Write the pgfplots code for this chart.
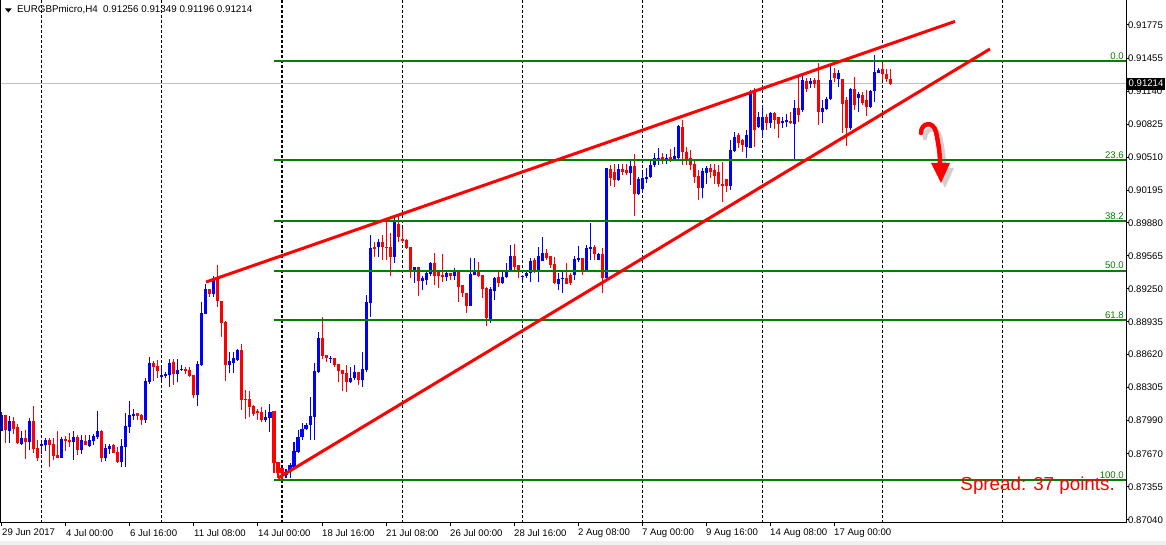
\documentclass[border=0pt]{standalone}
\usepackage{fontspec}
\setmainfont{Liberation Sans}
\usepackage{pgfplots}
\usepackage{pgfplotstable}
\pgfplotsset{compat=1.18}
\definecolor{mtgreen}{RGB}{0,128,0}
\definecolor{mtblue}{RGB}{0,0,255}
\definecolor{mtred}{RGB}{255,0,0}
\definecolor{bidgray}{RGB}{192,192,192}

% bullish (blue) candles: index, open, high, low, close
\pgfplotstableread{
i o h l c
0 0.87889 0.88071 0.87889 0.88042
2 0.87889 0.88033 0.87774 0.87985
5 0.87765 0.87889 0.87755 0.87822
7 0.87784 0.88014 0.87708 0.87985
10 0.87746 0.87784 0.87670 0.87765
11 0.87755 0.87822 0.87698 0.87803
15 0.87631 0.87832 0.87631 0.87812
18 0.87784 0.87889 0.87612 0.87832
20 0.87708 0.87851 0.87670 0.87803
22 0.87746 0.87851 0.87736 0.87803
23 0.87793 0.87861 0.87755 0.87842
24 0.87832 0.88080 0.87812 0.87889
26 0.87631 0.87765 0.87602 0.87726
27 0.87717 0.87765 0.87670 0.87746
30 0.87593 0.87812 0.87545 0.87746
31 0.87736 0.88061 0.87545 0.87938
32 0.87928 0.88176 0.87870 0.88042
33 0.88033 0.88100 0.87995 0.88052
36 0.87995 0.88396 0.87966 0.88368
37 0.88358 0.88598 0.88339 0.88540
40 0.88406 0.88502 0.88377 0.88425
41 0.88416 0.88454 0.88396 0.88435
42 0.88425 0.88578 0.88310 0.88540
44 0.88435 0.88578 0.88358 0.88473
45 0.88473 0.88521 0.88463 0.88483
49 0.88234 0.88559 0.88128 0.88531
50 0.88521 0.89124 0.88512 0.89018
51 0.89009 0.89296 0.89009 0.89248
53 0.89201 0.89373 0.89172 0.89344
57 0.88521 0.88646 0.88444 0.88559
58 0.88540 0.88646 0.88444 0.88588
59 0.88569 0.88674 0.88559 0.88665
66 0.87995 0.88090 0.87976 0.88023
67 0.88014 0.88148 0.87880 0.88071
71 0.87468 0.87526 0.87439 0.87497
72 0.87516 0.87583 0.87439 0.87564
73 0.87545 0.87784 0.87516 0.87698
74 0.87689 0.87899 0.87679 0.87832
75 0.87832 0.87966 0.87803 0.87909
76 0.87909 0.87966 0.87899 0.87947
77 0.87947 0.88215 0.87803 0.88033
78 0.88023 0.88540 0.87803 0.88463
79 0.88454 0.88837 0.88444 0.88779
82 0.88578 0.88607 0.88540 0.88588
87 0.88358 0.88502 0.88349 0.88396
88 0.88396 0.88521 0.88377 0.88454
90 0.88377 0.88646 0.88310 0.88483
91 0.88473 0.89191 0.88454 0.89124
92 0.89114 0.89765 0.88981 0.89641
94 0.89650 0.89727 0.89555 0.89698
98 0.89555 0.89928 0.89497 0.89899
103 0.89421 0.89459 0.89306 0.89459
105 0.89325 0.89373 0.89239 0.89354
106 0.89334 0.89421 0.89287 0.89402
107 0.89392 0.89507 0.89373 0.89497
111 0.89363 0.89430 0.89325 0.89402
113 0.89373 0.89450 0.89334 0.89421
117 0.89086 0.89545 0.89086 0.89392
118 0.89382 0.89545 0.89382 0.89411
122 0.88961 0.89268 0.88923 0.89248
123 0.89229 0.89363 0.89143 0.89354
125 0.89306 0.89411 0.89296 0.89363
126 0.89363 0.89497 0.89354 0.89411
127 0.89411 0.89669 0.89411 0.89564
130 0.89363 0.89382 0.89334 0.89373
131 0.89373 0.89430 0.89354 0.89402
132 0.89402 0.89545 0.89315 0.89516
134 0.89430 0.89650 0.89315 0.89564
135 0.89516 0.89746 0.89516 0.89593
139 0.89296 0.89402 0.89239 0.89344
140 0.89344 0.89430 0.89210 0.89354
143 0.89382 0.89564 0.89334 0.89535
144 0.89526 0.89660 0.89507 0.89545
146 0.89430 0.89669 0.89430 0.89641
147 0.89631 0.89880 0.89526 0.89650
149 0.89526 0.89593 0.89526 0.89584
151 0.89354 0.90406 0.89334 0.90406
154 0.90291 0.90444 0.90282 0.90397
157 0.90358 0.90483 0.90244 0.90425
159 0.90157 0.90320 0.90148 0.90301
160 0.90205 0.90358 0.90167 0.90310
161 0.90301 0.90406 0.90263 0.90320
162 0.90320 0.90483 0.90310 0.90435
163 0.90435 0.90550 0.90416 0.90502
164 0.90493 0.90598 0.90435 0.90502
166 0.90493 0.90540 0.90444 0.90502
168 0.90493 0.90607 0.90483 0.90521
169 0.90502 0.90818 0.90483 0.90808
175 0.90215 0.90406 0.90119 0.90377
176 0.90358 0.90425 0.90253 0.90406
182 0.90234 0.90674 0.90196 0.90579
183 0.90569 0.90751 0.90559 0.90703
186 0.90607 0.90770 0.90502 0.90722
187 0.90598 0.91153 0.90598 0.91134
189 0.90799 0.90942 0.90789 0.90894
190 0.90770 0.91009 0.90703 0.90894
192 0.90837 0.90942 0.90789 0.90933
195 0.90837 0.90894 0.90789 0.90856
196 0.90846 0.90923 0.90799 0.90866
198 0.90827 0.91057 0.90492 0.90980
200 0.90961 0.91315 0.90942 0.91248
202 0.91210 0.91268 0.91172 0.91239
205 0.90942 0.91057 0.90837 0.90980
206 0.90971 0.91086 0.90961 0.91067
207 0.91067 0.91411 0.91057 0.91248
209 0.91258 0.91344 0.91181 0.91315
212 0.90789 0.91172 0.90770 0.91163
214 0.91076 0.91134 0.90942 0.91114
217 0.90990 0.91153 0.90980 0.91143
218 0.91143 0.91488 0.91038 0.91325
219 0.91315 0.91363 0.91315 0.91344
}\bull

% bearish (red) candles: index, open, high, low, close
\pgfplotstableread{
i o h l c
1 0.88042 0.88042 0.87774 0.87899
3 0.87985 0.88023 0.87861 0.87909
4 0.87928 0.87957 0.87765 0.87774
6 0.87822 0.87899 0.87621 0.87784
8 0.87985 0.88128 0.87679 0.87717
9 0.87726 0.87803 0.87602 0.87631
12 0.87803 0.87822 0.87545 0.87755
13 0.87765 0.87822 0.87612 0.87650
14 0.87660 0.87889 0.87631 0.87631
16 0.87812 0.87842 0.87698 0.87793
17 0.87803 0.87870 0.87736 0.87784
19 0.87832 0.87851 0.87660 0.87708
21 0.87793 0.87851 0.87755 0.87755
25 0.87889 0.87899 0.87593 0.87631
28 0.87755 0.87765 0.87679 0.87679
29 0.87689 0.87736 0.87583 0.87593
34 0.88061 0.88061 0.87995 0.88033
35 0.88042 0.88052 0.87947 0.87995
38 0.88540 0.88559 0.88368 0.88502
39 0.88512 0.88569 0.88396 0.88463
43 0.88550 0.88578 0.88329 0.88435
46 0.88483 0.88502 0.88435 0.88463
47 0.88473 0.88502 0.88406 0.88416
48 0.88425 0.88425 0.88205 0.88234
52 0.89248 0.89248 0.89172 0.89201
54 0.89354 0.89478 0.89076 0.89133
55 0.89133 0.89133 0.88789 0.88923
56 0.88933 0.88942 0.88368 0.88521
60 0.88665 0.88722 0.88090 0.88186
61 0.88196 0.88282 0.88004 0.88186
62 0.88196 0.88272 0.88023 0.88119
63 0.88128 0.88138 0.88033 0.88052
64 0.88080 0.88100 0.87995 0.88061
65 0.88071 0.88119 0.87976 0.87995
68 0.88080 0.88080 0.87487 0.87583
69 0.87593 0.87593 0.87439 0.87487
70 0.87535 0.87535 0.87420 0.87487
80 0.88779 0.88981 0.88578 0.88607
81 0.88617 0.88617 0.88550 0.88588
83 0.88588 0.88588 0.88502 0.88521
84 0.88531 0.88531 0.88358 0.88463
85 0.88473 0.88473 0.88272 0.88435
86 0.88444 0.88521 0.88263 0.88358
89 0.88454 0.88454 0.88329 0.88377
93 0.89650 0.89698 0.89555 0.89631
95 0.89698 0.89765 0.89526 0.89650
96 0.89650 0.89890 0.89526 0.89641
97 0.89650 0.89784 0.89373 0.89555
99 0.89870 0.89956 0.89698 0.89746
100 0.89727 0.89832 0.89698 0.89708
101 0.89717 0.89727 0.89631 0.89641
102 0.89650 0.89650 0.89354 0.89411
104 0.89459 0.89459 0.89182 0.89325
108 0.89497 0.89593 0.89287 0.89373
109 0.89421 0.89421 0.89258 0.89373
110 0.89382 0.89584 0.89315 0.89363
112 0.89402 0.89402 0.89334 0.89373
114 0.89411 0.89411 0.89124 0.89268
115 0.89287 0.89287 0.89172 0.89210
116 0.89210 0.89210 0.89018 0.89086
119 0.89411 0.89507 0.89363 0.89373
120 0.89382 0.89382 0.89162 0.89248
121 0.89258 0.89268 0.88894 0.88971
124 0.89363 0.89411 0.89268 0.89306
128 0.89564 0.89679 0.89411 0.89459
129 0.89478 0.89478 0.89354 0.89430
133 0.89526 0.89545 0.89402 0.89430
136 0.89593 0.89631 0.89526 0.89545
137 0.89564 0.89564 0.89450 0.89478
138 0.89488 0.89555 0.89296 0.89306
141 0.89354 0.89497 0.89296 0.89296
142 0.89382 0.89402 0.89287 0.89306
145 0.89545 0.89545 0.89382 0.89430
148 0.89650 0.89669 0.89526 0.89584
150 0.89584 0.89641 0.89210 0.89354
152 0.90397 0.90435 0.90234 0.90310
153 0.90368 0.90444 0.90224 0.90291
155 0.90397 0.90444 0.90339 0.90368
156 0.90387 0.90444 0.90339 0.90358
158 0.90425 0.90540 0.89947 0.90157
165 0.90512 0.90550 0.90444 0.90483
167 0.90512 0.90588 0.90464 0.90483
170 0.90799 0.90866 0.90435 0.90559
171 0.90559 0.90607 0.90435 0.90483
172 0.90502 0.90579 0.90387 0.90435
173 0.90444 0.90483 0.90263 0.90320
174 0.90330 0.90387 0.90100 0.90215
177 0.90406 0.90444 0.90310 0.90368
178 0.90387 0.90444 0.90253 0.90330
179 0.90368 0.90435 0.90224 0.90253
180 0.90253 0.90464 0.90081 0.90234
181 0.90301 0.90301 0.90177 0.90234
184 0.90722 0.90741 0.90598 0.90645
185 0.90674 0.90684 0.90559 0.90626
188 0.91153 0.91172 0.90607 0.90770
191 0.90894 0.90923 0.90770 0.90837
193 0.90933 0.90942 0.90780 0.90866
194 0.90894 0.90894 0.90693 0.90827
197 0.90856 0.90942 0.90827 0.90837
199 0.90980 0.91296 0.90846 0.90913
201 0.91239 0.91268 0.91134 0.91163
203 0.91248 0.91268 0.91172 0.91210
204 0.91248 0.91411 0.90818 0.90942
208 0.91315 0.91363 0.91229 0.91268
210 0.91258 0.91258 0.90741 0.91019
211 0.91057 0.91086 0.90617 0.90789
213 0.91163 0.91277 0.90961 0.91009
215 0.91105 0.91134 0.91009 0.91028
216 0.91057 0.91153 0.90904 0.90990
220 0.91354 0.91411 0.91248 0.91306
221 0.91306 0.91354 0.91229 0.91258
222 0.91256 0.91349 0.91196 0.91214
}\bear

\newcommand{\lblfont}{\fontsize{9.6}{11}\selectfont}

\begin{document}
\begin{tikzpicture}
\useasboundingbox (0,0) rectangle (1166pt,545pt);
\fill[white] (0,0) rectangle (1166pt,545pt);
\fill[black!6] (0,0) rectangle (1166pt,3.5pt);
\begin{axis}[
  at={(1pt,22pt)}, anchor=south west,
  scale only axis, width=1125pt, height=525pt,
  xmin=-0.25, xmax=281, ymin=0.87009, ymax=0.92033,
  axis line style={black, line width=1pt},
  tick align=outside, major tick length=3pt,
  tick style={black, line width=1pt},
  xtick pos=left, ytick pos=right, yticklabel pos=right,
  xtick={0,16,32,48,64,80,96,112,128,144,160,176,192,208},
  xticklabels={29 Jun 2017,4 Jul 00:00,6 Jul 16:00,11 Jul 08:00,14 Jul 00:00,18 Jul 16:00,21 Jul 08:00,26 Jul 00:00,28 Jul 16:00,2 Aug 08:00,7 Aug 00:00,9 Aug 16:00,14 Aug 08:00,17 Aug 00:00},
  xticklabel style={anchor=north west, inner sep=0pt, yshift=-3pt, font=\lblfont},
  ytick={0.91775,0.91455,0.91140,0.90825,0.90510,0.90195,0.89880,0.89565,0.89250,0.88935,0.88620,0.88305,0.87990,0.87670,0.87355,0.87040},
  yticklabels={0.91775,0.91455,0.91140,0.90825,0.90510,0.90195,0.89880,0.89565,0.89250,0.88935,0.88620,0.88305,0.87990,0.87670,0.87355,0.87040},
  yticklabel style={anchor=west, inner sep=0pt, xshift=-1pt, font=\lblfont},
  extra x ticks={10,40,70,100,130,160,190,220,250},
  extra x tick labels={},
  extra x tick style={grid=major, tick style={draw=none}},
  major grid style={black, line width=1pt, dash pattern=on 3pt off 2pt},
]
% bid line
\addplot[bidgray, line width=1pt] coordinates {(-0.25,0.91214) (281,0.91214)};
% bullish candles
\addplot[draw=none, mark=none, error bars/.cd, y dir=plus, y explicit, error mark=none,
  error bar style={draw=mtblue, line width=1pt}]
  table[x=i, y=l, y error plus expr=\thisrow{h}-\thisrow{l}] {\bull};
\addplot[draw=none, mark=none, error bars/.cd, y dir=plus, y explicit, error mark=none,
  error bar style={draw=mtblue, line width=3pt}]
  table[x=i, y=o, y error plus expr=\thisrow{c}-\thisrow{o}] {\bull};
% bearish candles
\addplot[draw=none, mark=none, error bars/.cd, y dir=plus, y explicit, error mark=none,
  error bar style={draw=mtred, line width=1pt}]
  table[x=i, y=l, y error plus expr=\thisrow{h}-\thisrow{l}] {\bear};
\addplot[draw=none, mark=none, error bars/.cd, y dir=plus, y explicit, error mark=none,
  error bar style={draw=mtred, line width=3pt}]
  table[x=i, y=c, y error plus expr=\thisrow{o}-\thisrow{c}] {\bear};
% Fibonacci levels
\addplot[mtgreen, line width=2pt] coordinates {(68,0.91426) (281,0.91426)};
\addplot[mtgreen, line width=2pt] coordinates {(68,0.90481) (281,0.90481)};
\addplot[mtgreen, line width=2pt] coordinates {(68,0.89896) (281,0.89896)};
\addplot[mtgreen, line width=2pt] coordinates {(68,0.89424) (281,0.89424)};
\addplot[mtgreen, line width=2pt] coordinates {(68,0.88951) (281,0.88951)};
\addplot[mtgreen, line width=2pt] coordinates {(68,0.87422) (281,0.87422)};
% trend lines (rising wedge)
\addplot[mtred, line width=3pt] coordinates {(51,0.89315) (238.25,0.91809)};
\addplot[mtred, line width=3pt] coordinates {(69,0.87439) (247,0.91545)};
% level labels
\node[anchor=south east, inner sep=0pt, yshift=1.5pt, text=mtgreen, font=\lblfont] at (axis cs:280.5,0.91426) {0.0};
\node[anchor=south east, inner sep=0pt, yshift=1.5pt, text=mtgreen, font=\lblfont] at (axis cs:280.5,0.90481) {23.6};
\node[anchor=south east, inner sep=0pt, yshift=1.5pt, text=mtgreen, font=\lblfont] at (axis cs:280.5,0.89896) {38.2};
\node[anchor=south east, inner sep=0pt, yshift=1.5pt, text=mtgreen, font=\lblfont] at (axis cs:280.5,0.89424) {50.0};
\node[anchor=south east, inner sep=0pt, yshift=1.5pt, text=mtgreen, font=\lblfont] at (axis cs:280.5,0.88951) {61.8};
\node[anchor=south east, inner sep=0pt, yshift=1.5pt, text=mtgreen, font=\lblfont] at (axis cs:280.5,0.87422) {100.0};
\end{axis}
% annotations in pixel coordinates (origin top-left)
\begin{scope}[x=1pt, y=-1pt, shift={(0pt,545pt)}]
  \fill[black] (5,8.5) -- (11.7,8.5) -- (8.35,12.5) -- cycle;
  \node[anchor=west, inner sep=0pt, font=\fontsize{9.8}{11}\selectfont] at (17,9.8) {EURGBPmicro,H4\ \ 0.91256 0.91349 0.91196 0.91214};
  \node[anchor=base east, inner sep=0pt, text=mtred, font=\fontsize{18.8}{20}\selectfont] at (1115,491) {Spread: 37 points.};
  \node[fill=black, text=white, anchor=west, inner xsep=1.5pt, inner ysep=0pt, minimum height=12pt, font=\lblfont] at (1127,83.6) {0.91214};
  % curved arrow with shadow
  \begin{scope}[shift={(4,5)}, opacity=0.3]
    \draw[black!60, line width=4.5pt, line cap=round] (921,133) .. controls (921,123) and (933,120) .. (936,132) .. controls (938,142) and (940,152) .. (940,164);
    \fill[black!60] (931,163) -- (950,163) -- (941,183) -- cycle;
  \end{scope}
  \draw[mtred, line width=4.5pt, line cap=round] (921,133) .. controls (921,123) and (933,120) .. (936,132) .. controls (938,142) and (940,152) .. (940,164);
  \fill[mtred] (931,163) -- (950,163) -- (941,183) -- cycle;
\end{scope}
\end{tikzpicture}
\end{document}
